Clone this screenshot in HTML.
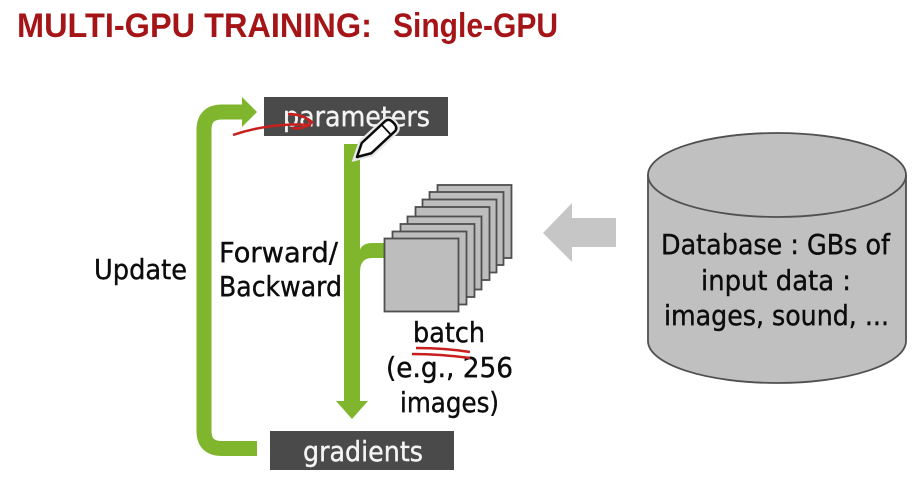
<!DOCTYPE html>
<html><head><meta charset="utf-8"><style>
html,body{margin:0;padding:0;background:#fff;width:920px;height:484px;overflow:hidden}
svg{display:block;filter:blur(.35px)}
text{font-family:"DejaVu Sans","Liberation Sans",sans-serif;font-size:27.500px;fill:#0c0c0c;stroke:#0c0c0c;stroke-width:.4px}
</style></head><body>
<svg width="920" height="484" viewBox="0 0 920 484" xmlns="http://www.w3.org/2000/svg">
<rect width="920" height="484" fill="#fff"/>
<g style="font-size:34px">
<text x="17" y="37" textLength="355" lengthAdjust="spacingAndGlyphs" style="font-family:'Liberation Sans',sans-serif;font-weight:bold;font-size:34px;fill:#a51417;stroke:none">MULTI-GPU TRAINING:</text>
<text x="393" y="37" textLength="165" lengthAdjust="spacingAndGlyphs" style="font-family:'Liberation Sans',sans-serif;font-weight:bold;font-size:34px;fill:#a51417;stroke:none">Single-GPU</text>
</g>

<path d="M245 112H222Q204 112 204 130V431Q204 448.500 222 448.500H257" fill="none" stroke="#80b62e" stroke-width="15"/>
<polygon points="242,97 257,112 242,127" fill="#80b62e"/>
<rect x="264" y="97" width="184" height="39" fill="#4a4a4a"/>
<rect x="270" y="431" width="184" height="39" fill="#4a4a4a"/>
<text x="283" y="126" textLength="147" lengthAdjust="spacingAndGlyphs" style="fill:#f4f4f4;stroke:#f4f4f4">parameters</text>
<text x="303" y="461" textLength="120" lengthAdjust="spacingAndGlyphs" style="fill:#f4f4f4;stroke:#f4f4f4">gradients</text>

<rect x="344" y="144" width="16" height="258" fill="#80b62e"/>
<polygon points="336,401 368,401 352,419" fill="#80b62e"/>
<path d="M359 254Q360 243 372 243H386V258H372Q360 258 360 272Z" fill="#80b62e"/>

<g fill="#bdbdbd" stroke="#4f4f4f" stroke-width="1.800">
<rect x="437.500" y="185" width="74" height="73"/>
<rect x="429.500" y="192" width="74" height="73"/>
<rect x="422.500" y="199.500" width="74" height="73"/>
<rect x="415.500" y="207" width="74" height="73"/>
<rect x="407.500" y="216.500" width="74" height="73"/>
<rect x="400.500" y="224" width="74" height="73"/>
<rect x="392.500" y="231.500" width="74" height="73"/>
<rect x="384.500" y="238.500" width="74" height="73"/>
</g>

<text x="94" y="279" textLength="93" lengthAdjust="spacingAndGlyphs">Update</text>
<text x="219" y="262" textLength="119" lengthAdjust="spacingAndGlyphs">Forward/</text>
<text x="219" y="296" textLength="123" lengthAdjust="spacingAndGlyphs">Backward</text>
<text x="413" y="342" textLength="72" lengthAdjust="spacingAndGlyphs">batch</text>
<text x="386" y="377" textLength="127" lengthAdjust="spacingAndGlyphs">(e.g., 256</text>
<text x="400" y="412" textLength="99" lengthAdjust="spacingAndGlyphs">images)</text>

<polygon points="543,233 572,203 572,218 616,218 616,247 572,247 572,262" fill="#c6c6c6"/>

<path d="M648 175A129 42 0 0 1 906 175V341A129 42 0 0 1 648 341Z" fill="#c0c0c0" stroke="#505050" stroke-width="1.800"/>
<path d="M648 175A129 42 0 0 0 906 175" fill="none" stroke="#505050" stroke-width="1.800"/>
<text x="661" y="254" textLength="229" lengthAdjust="spacingAndGlyphs">Database : GBs of</text>
<text x="701" y="290" textLength="150" lengthAdjust="spacingAndGlyphs">input data :</text>
<text x="664" y="325" textLength="225" lengthAdjust="spacingAndGlyphs">images, sound, ...</text>

<path d="M233 135Q256 127 283 125Q298 124 310 125Q312 119 298 115L288 114M288 114Q302 114 312 122Q305 130 292 128" fill="none" stroke="#c8201f" stroke-width="2.500"/>
<path d="M416 348Q445 348 470 352M412 354Q440 354 470 358" fill="none" stroke="#c8201f" stroke-width="2.500"/>

<g transform="translate(357 157) rotate(-43)">
<path d="M0 0L13 -7H45Q50 -7 50 0Q50 7 45 7H13Z" fill="#fff" stroke="#e8e8e8" stroke-width="7"/>
<path d="M0 0L13 -7H45Q50 -7 50 0Q50 7 45 7H13Z" fill="#fff" stroke="#0a0a0a" stroke-width="2.500" stroke-linejoin="round"/>
<path d="M40 -7V7" stroke="#0a0a0a" stroke-width="1.800" fill="none"/>
</g>
</svg>
</body></html>
